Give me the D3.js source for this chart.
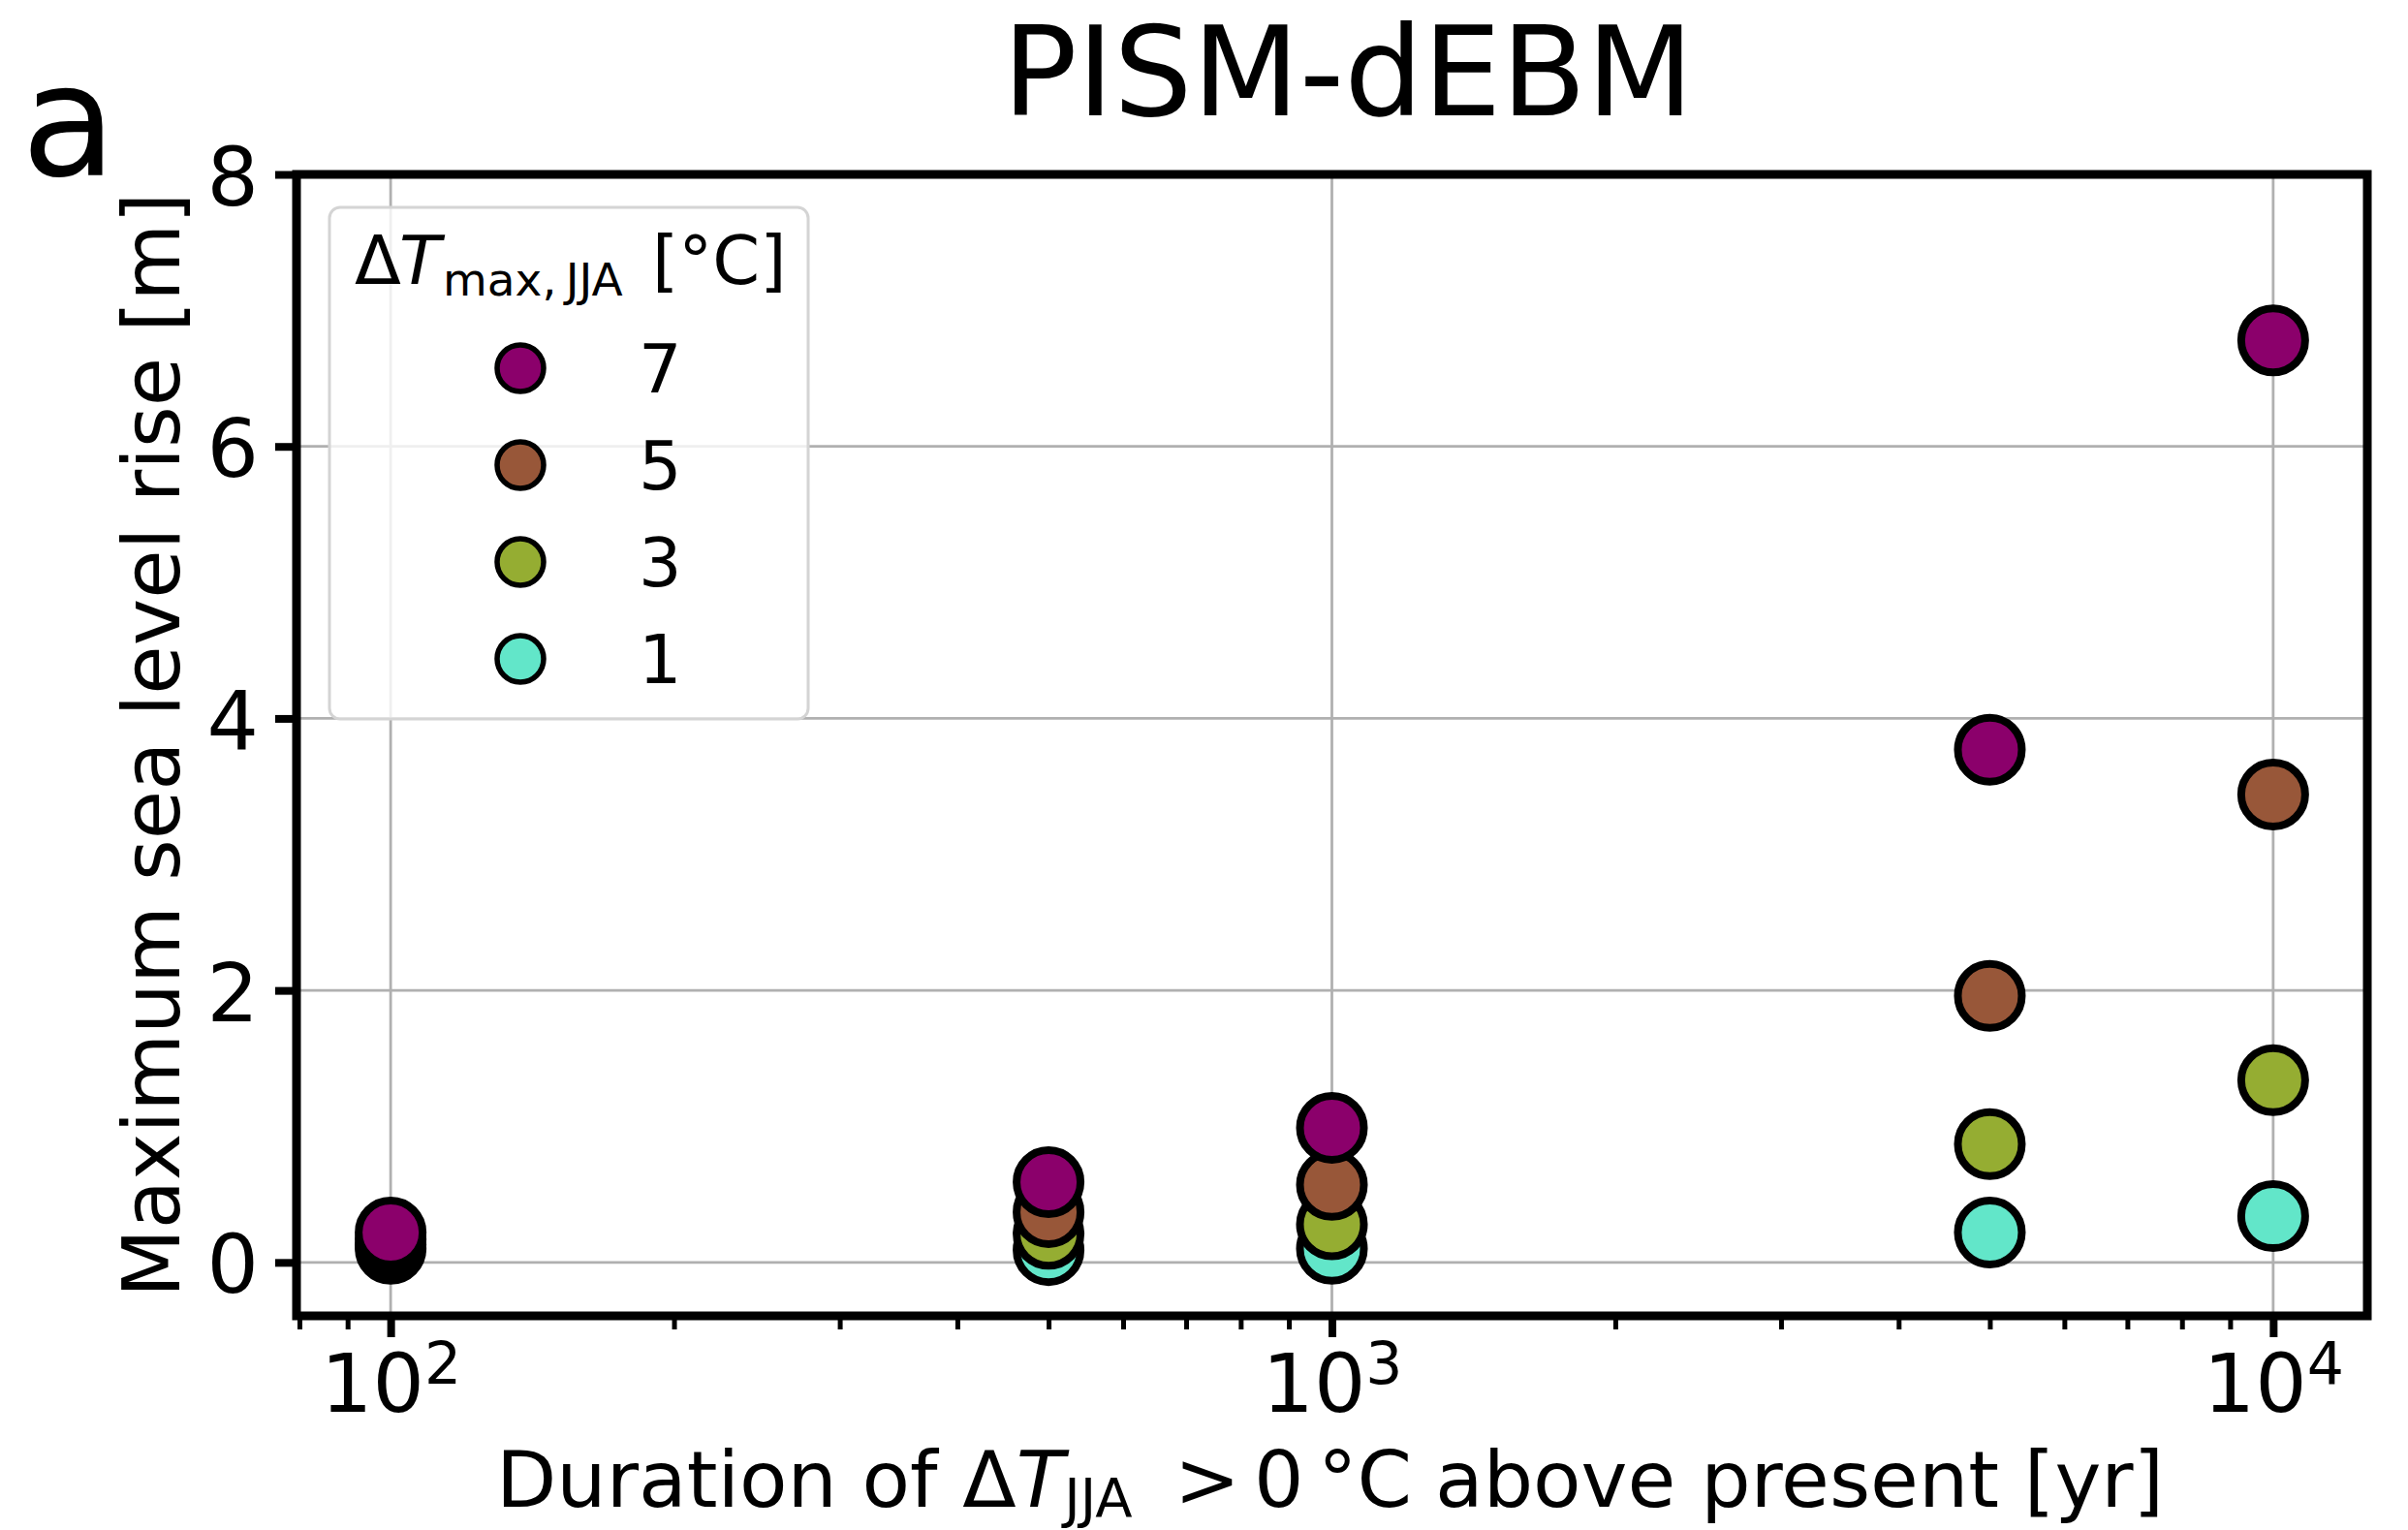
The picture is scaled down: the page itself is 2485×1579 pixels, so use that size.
<!DOCTYPE html>
<html>
<head>
<meta charset="utf-8">
<script src="https://cdn.jsdelivr.net/npm/d3@7/dist/d3.min.js"></script>
<style>
  body { margin: 0; background: #fff; }
  text { font-family: "DejaVu Sans", sans-serif; fill: #000; }
</style>
</head>
<body>
<script>
// Durations of warming (yr) and the four JJA warming levels
const durations = [100, 500, 1000, 5000, 10000];
const warmings = [7, 5, 3, 1];
const colors = ["#8b006b", "#985739", "#95ad32", "#62e6c9"];

// Maximum sea level rise [m], one array per warming level
const slr7 = [0.22, 0.59, 0.99, 3.77, 6.78];
const slr5 = [0.17, 0.37, 0.57, 1.96, 3.44];
const slr3 = [0.13, 0.21, 0.28, 0.87, 1.34];
const slr1 = [0.10, 0.09, 0.10, 0.22, 0.34];

const yTicks = [0, 2, 4, 6, 8];
const xTicks = [100, 1000, 10000];
const xMinor = [80, 90, 200, 300, 400, 500, 600, 700, 800, 900,
                2000, 3000, 4000, 5000, 6000, 7000, 8000, 9000];

const W = 2485, H = 1579;
const margin = { top: 180, right: 42, bottom: 221, left: 306 };
const width = W - margin.left - margin.right;
const height = H - margin.top - margin.bottom;

const svg = d3.select("body").append("svg")
  .attr("width", W)
  .attr("height", H);

const g = svg.append("g")
  .attr("transform", `translate(${margin.left},${margin.top})`);

// Scales
const x = d3.scaleLog()
  .domain([Math.pow(10, 1.9), Math.pow(10, 4.1)])
  .range([0, width]);

const y = d3.scaleLinear()
  .domain([-0.393, 8])
  .range([height, 0]);

// Grid
g.append("g").selectAll("line")
  .data(xTicks)
  .join("line")
  .attr("x1", d => x(d)).attr("x2", d => x(d))
  .attr("y1", 0).attr("y2", height)
  .attr("stroke", "#b0b0b0").attr("stroke-width", 2.8);

g.append("g").selectAll("line")
  .data(yTicks)
  .join("line")
  .attr("x1", 0).attr("x2", width)
  .attr("y1", d => y(d)).attr("y2", d => y(d))
  .attr("stroke", "#b0b0b0").attr("stroke-width", 2.8);

// Points: lowest warming first so 7 °C ends on top
const series = [
  { t: 1, vals: slr1, color: colors[3] },
  { t: 3, vals: slr3, color: colors[2] },
  { t: 5, vals: slr5, color: colors[1] },
  { t: 7, vals: slr7, color: colors[0] }
];

series.forEach(s => {
  g.append("g").selectAll("circle")
    .data(durations.map((d, i) => ({ dur: d, val: s.vals[i] })))
    .join("circle")
    .attr("cx", d => x(d.dur))
    .attr("cy", d => y(d.val))
    .attr("r", 33)
    .attr("fill", s.color)
    .attr("stroke", "#000")
    .attr("stroke-width", 8);
});

// X axis (major + minor ticks)
const gxMinor = g.append("g")
  .attr("transform", `translate(0,${height})`)
  .call(d3.axisBottom(x).tickValues(xMinor).tickSize(14).tickFormat(""));
gxMinor.select(".domain").remove();
gxMinor.selectAll(".tick line").attr("stroke-width", 5);

const gx = g.append("g")
  .attr("transform", `translate(0,${height})`)
  .call(d3.axisBottom(x).tickValues(xTicks).tickSize(22).tickFormat(""));
gx.select(".domain").remove();
gx.selectAll(".tick line").attr("stroke-width", 8);
gx.selectAll(".tick text")
  .attr("y", 99)
  .attr("dy", 0)
  .attr("font-size", 84)
  .attr("font-family", "DejaVu Sans")
  .each(function(d) {
    const t = d3.select(this);
    t.append("tspan").text("10");
    t.append("tspan").attr("dy", -29).attr("font-size", 60).text(Math.round(Math.log10(d)));
  });

// Y axis
const gy = g.append("g")
  .call(d3.axisLeft(y).tickValues(yTicks).tickSize(22).tickFormat(d3.format("d")));
gy.select(".domain").remove();
gy.selectAll(".tick line").attr("stroke-width", 8);
gy.selectAll(".tick text")
  .attr("x", -39)
  .attr("dy", "0.37em")
  .attr("font-size", 84)
  .attr("font-family", "DejaVu Sans");

// Frame
g.append("rect")
  .attr("width", width)
  .attr("height", height)
  .attr("fill", "none")
  .attr("stroke", "#000")
  .attr("stroke-width", 9);

// Legend
const legend = svg.append("g");
legend.append("rect")
  .attr("x", 340).attr("y", 214)
  .attr("width", 494).attr("height", 528)
  .attr("rx", 11)
  .attr("fill", "#fff").attr("fill-opacity", 0.8)
  .attr("stroke", "#d4d4d4").attr("stroke-width", 3);

const lt = legend.append("text")
  .attr("y", 293)
  .attr("font-size", 70);
lt.append("tspan").attr("x", 366).text("\u0394");
lt.append("tspan").attr("x", 412).attr("font-style", "italic").text("T");
lt.append("tspan").attr("x", 457).attr("dy", 12).attr("font-size", 47).text("max,\u2009JJA");
lt.append("tspan").attr("x", 673).attr("dy", -12).text("[\u00b0C]");

const entries = legend.selectAll(".entry")
  .data(warmings)
  .join("g")
  .attr("class", "entry")
  .attr("transform", (d, i) => `translate(0,${380 + i * 100})`);

entries.append("circle")
  .attr("cx", 537)
  .attr("r", 24)
  .attr("fill", (d, i) => colors[i])
  .attr("stroke", "#000")
  .attr("stroke-width", 5.5);

entries.append("text")
  .attr("x", 659)
  .attr("dy", "0.36em")
  .attr("font-size", 70)
  .text(d => d);

// Title and panel letter
svg.append("text")
  .attr("x", 1391).attr("y", 119)
  .attr("text-anchor", "middle")
  .attr("font-size", 128)
  .text("PISM-dEBM");

svg.append("text")
  .attr("x", 22).attr("y", 181)
  .attr("font-size", 160)
  .text("a");

// Axis labels
svg.append("text")
  .attr("transform", "translate(185,769) rotate(-90)")
  .attr("text-anchor", "middle")
  .attr("font-size", 82)
  .text("Maximum sea level rise [m]");

const xl = svg.append("text")
  .attr("y", 1555)
  .attr("font-size", 81);
xl.append("tspan").attr("x", 512).text("Duration of \u0394");
xl.append("tspan").attr("font-style", "italic").text("T");
xl.append("tspan").attr("dy", 10).attr("font-size", 56).text("JJA");
xl.append("tspan").attr("x", 1212).attr("dy", -10).text(">");
xl.append("tspan").attr("x", 1294).text("0");
xl.append("tspan").attr("x", 1360).text("\u00b0C");
xl.append("tspan").attr("x", 1481).text("above present [yr]");
</script>
</body>
</html>
